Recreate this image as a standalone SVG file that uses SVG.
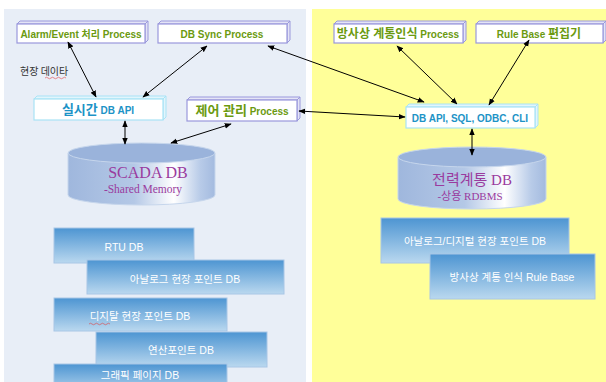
<svg xmlns="http://www.w3.org/2000/svg" width="606" height="382" viewBox="0 0 606 382">
<defs>
<linearGradient id="gb" x1="0" y1="0" x2="0" y2="1">
<stop offset="0" stop-color="#4d95d2"/>
<stop offset="1" stop-color="#bad8ef"/>
</linearGradient>
<linearGradient id="cyl" x1="0" y1="0" x2="1" y2="0">
<stop offset="0" stop-color="#9fb7dd"/>
<stop offset="0.45" stop-color="#b4c8e6"/>
<stop offset="0.72" stop-color="#ffffff"/>
<stop offset="0.9" stop-color="#b8cbe8"/>
<stop offset="1" stop-color="#a3badf"/>
</linearGradient>
<marker id="ah" viewBox="0 0 10 10" refX="9" refY="5" markerWidth="7" markerHeight="7" orient="auto-start-reverse" markerUnits="userSpaceOnUse">
<path d="M0,1 L10,5 L0,9 Z" fill="#000"/>
</marker>
</defs>
<style>
.pb{fill:#fff;stroke:#9a98dc;stroke-width:1.2}
.pbs{fill:#e4e4f6;stroke:#9a98dc;stroke-width:1}
.ab{fill:#fff;stroke:#a9e3f6;stroke-width:1.2}
.abs{fill:#e2f5fc;stroke:#a9e3f6;stroke-width:1}
.pt{font-family:"Liberation Sans","Noto Sans CJK KR",sans-serif;font-weight:bold;font-size:10px;fill:#6b9a10;text-anchor:middle}
.at{font-family:"Liberation Sans","Noto Sans CJK KR",sans-serif;font-weight:bold;font-size:10px;fill:#1d93c6;text-anchor:middle}
.gr{fill:url(#gb);stroke:#a8c6e6;stroke-width:1}
.gt{font-family:"Liberation Sans","Noto Sans CJK KR",sans-serif;font-size:10.5px;fill:#fff;text-anchor:middle}
.cb{fill:url(#cyl);stroke:#c6d6ec;stroke-width:1}
.ct{fill:#9ab3db;stroke:#c6d6ec;stroke-width:1}
.cn{font-family:"Liberation Serif","Noto Sans CJK KR",serif;fill:#9a3b9e;text-anchor:middle}
.ln{stroke:#000;stroke-width:1;fill:none;marker-start:url(#ah);marker-end:url(#ah)}
</style>
<rect x="4" y="9" width="302" height="373" fill="#e8eef7"/>
<rect x="312" y="9" width="294" height="373" fill="#ffff99"/>
<text x="20" y="75" font-family="'Noto Sans CJK KR',sans-serif" font-size="10" fill="#333">현장 데이타</text>
<path d="M45,78 q1.5,-1.5 3,0 q1.5,1.5 3,0 q1.5,-1.5 3,0 q1.5,1.5 3,0 q1.5,-1.5 3,0 q1.5,1.5 3,0 q1.5,-1.5 3,0" stroke="#e04040" stroke-width="0.6" fill="none"/>

<g id="n-alarm">
<polygon class="pbs" points="17,24 20,21 148,21 145,24"/>
<polygon class="pbs" points="145,24 148,21 148,40 145,43"/>
<rect class="pb" x="17" y="24" width="128" height="19"/>
<text class="pt" x="81" y="37.5">Alarm/Event 처리 Process</text>
</g>
<g id="n-dbsync">
<polygon class="pbs" points="158,24 161,21 290,21 287,24"/>
<polygon class="pbs" points="287,24 290,21 290,40 287,43"/>
<rect class="pb" x="158" y="24" width="129" height="19"/>
<text class="pt" x="222" y="37.5">DB Sync Process</text>
</g>
<g id="n-rtapi">
<polygon class="abs" points="34,99 37,96 166,96 163,99"/>
<polygon class="abs" points="163,99 166,96 166,117 163,120"/>
<rect class="ab" x="34" y="99" width="129" height="21"/>
<text class="at" x="98" y="114"><tspan font-size="13">실시간</tspan> DB API</text>
</g>
<g id="n-ctrl">
<polygon class="pbs" points="187,100 190,97 300,97 297,100"/>
<polygon class="pbs" points="297,100 300,97 300,118 297,121"/>
<rect class="pb" x="187" y="100" width="110" height="21"/>
<text class="pt" x="242" y="115"><tspan font-size="13">제어 관리</tspan> Process</text>
</g>
<g id="n-topo">
<polygon class="pbs" points="334,24 337,21 466,21 463,24"/>
<polygon class="pbs" points="463,24 466,21 466,40 463,43"/>
<rect class="pb" x="334" y="24" width="129" height="19"/>
<text class="pt" x="398" y="37.5"><tspan font-size="12">방사상 계통인식</tspan> Process</text>
</g>
<g id="n-rule">
<polygon class="pbs" points="476,24 479,21 606,21 603,24"/>
<polygon class="pbs" points="603,24 606,21 606,40 603,43"/>
<rect class="pb" x="476" y="24" width="127" height="19"/>
<text class="pt" x="539" y="37.5">Rule Base <tspan font-size="12">편집기</tspan></text>
</g>
<g id="n-sqlapi">
<polygon class="abs" points="406,107 409,104 538,104 535,107"/>
<polygon class="abs" points="535,107 538,104 538,125 535,128"/>
<rect class="ab" x="406" y="107" width="129" height="21"/>
<text class="at" x="470" y="122">DB API, SQL, ODBC, CLI</text>
</g>

<g id="n-scada">
<path class="cb" d="M68,153 L68,195 A73.5,10 0 0 0 215,195 L215,153 Z"/>
<ellipse class="ct" cx="141.5" cy="153" rx="73.5" ry="10"/>
<text class="cn" x="148" y="178" font-size="16">SCADA DB</text>
<text class="cn" x="143" y="193" font-size="11.5">-Shared Memory</text>
</g>
<g id="n-power">
<path class="cb" d="M398,157 L398,199 A74,10 0 0 0 546,199 L546,157 Z"/>
<ellipse class="ct" cx="472" cy="157" rx="74" ry="10"/>
<text class="cn" x="472" y="185" font-size="15">전력계통 DB</text>
<text class="cn" x="470" y="200" font-size="11">-상용 RDBMS</text>
</g>

<g id="n-rtu"><rect class="gr" x="54" y="228" width="140" height="35"/><text class="gt" x="124" y="251">RTU DB</text></g>
<g id="n-analog"><rect class="gr" x="87" y="260" width="197" height="34"/><text class="gt" x="185" y="283">아날로그 현장 포인트 DB</text></g>
<g id="n-digital"><rect class="gr" x="54" y="298" width="173" height="33"/><text class="gt" x="140" y="320">디지탈 현장 포인트 DB</text>
<path d="M89,324 q1.5,-1.5 3,0 q1.5,1.5 3,0 q1.5,-1.5 3,0 q1.5,1.5 3,0 q1.5,-1.5 3,0 q1.5,1.5 3,0 q1.5,-1.5 3,0" stroke="#e04040" stroke-width="0.6" fill="none"/></g>
<g id="n-calc"><rect class="gr" x="96" y="332" width="171" height="35"/><text class="gt" x="181" y="354">연산포인트 DB</text></g>
<g id="n-graphic"><rect class="gr" x="54" y="364" width="173" height="30"/><text class="gt" x="140" y="379">그래픽 페이지 DB</text></g>

<g id="n-adpoint"><rect class="gr" x="381" y="218" width="188" height="45"/><text class="gt" x="475" y="245">아날로그/디지털 현장 포인트 DB</text></g>
<g id="n-rulebase"><rect class="gr" x="430" y="254" width="165" height="45"/><text class="gt" x="512" y="281">방사상 계통 인식 Rule Base</text></g>

<g id="connectors">
<line class="ln" x1="68" y1="42" x2="96" y2="97"/>
<line class="ln" x1="207" y1="46" x2="143" y2="97"/>
<line class="ln" x1="268" y1="46" x2="424" y2="102"/>
<line class="ln" x1="299" y1="111" x2="405" y2="117"/>
<line class="ln" x1="397" y1="46" x2="457" y2="104"/>
<line class="ln" x1="529" y1="40" x2="489" y2="105"/>
<line class="ln" x1="125" y1="121" x2="125" y2="144"/>
<line class="ln" x1="231" y1="124" x2="171" y2="143"/>
<line class="ln" x1="472" y1="129" x2="472" y2="155"/>
</g>
</svg>
